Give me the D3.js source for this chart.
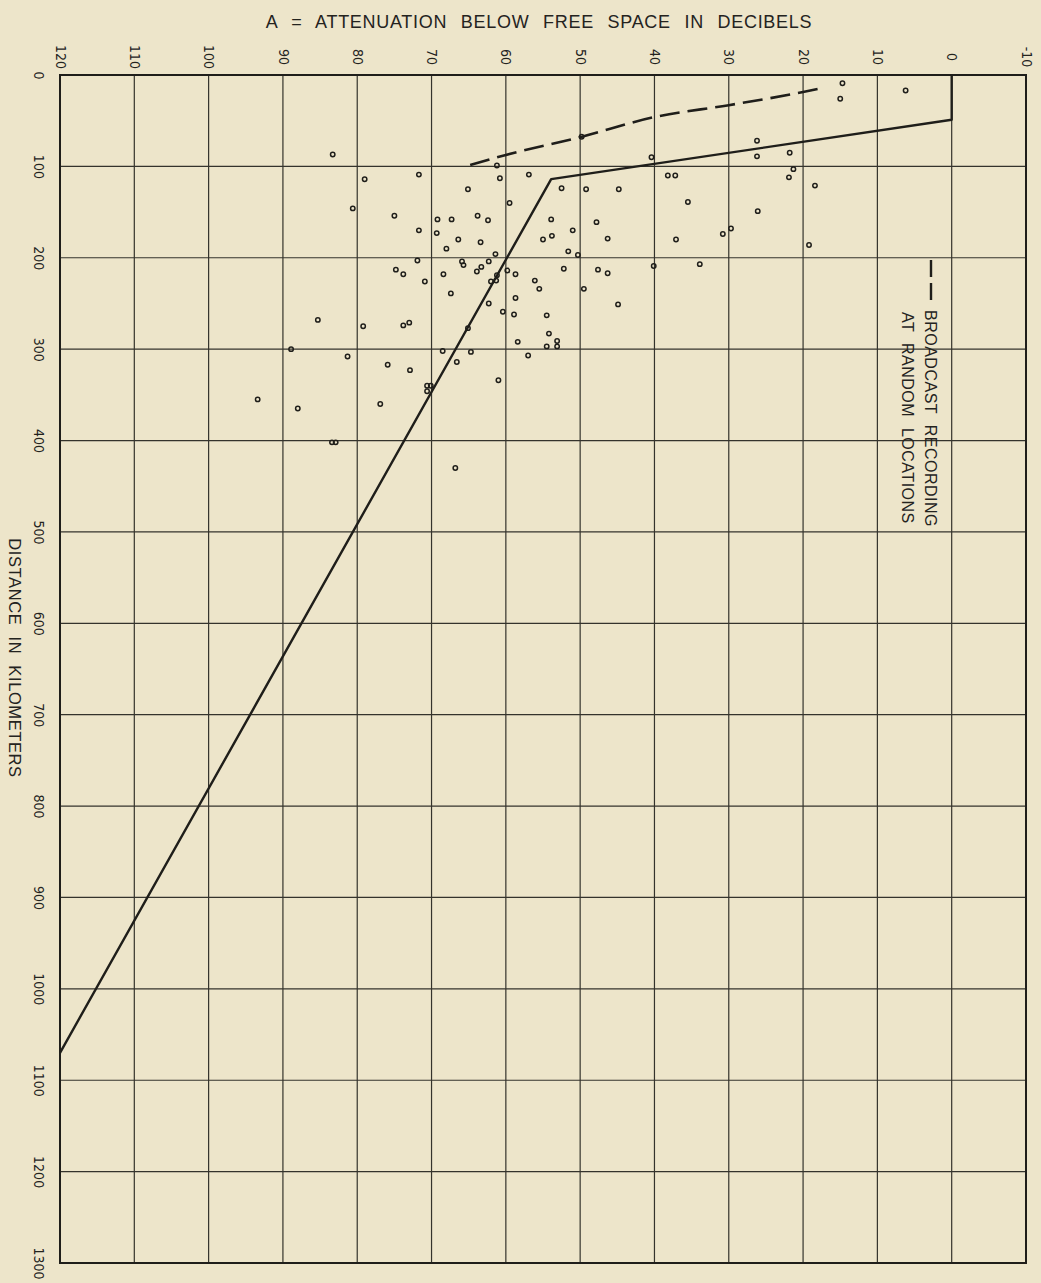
<!DOCTYPE html>
<html>
<head>
	<meta charset="utf-8">
	<title></title>
	<style>
		html, body {
			margin: 0;
			padding: 0;
			background-color: #ede5ca;
		}
		.chart {
			display: block;
			width: 1041px;
			height: 1283px;
		}
		.tick text {
			font-family: "DejaVu Sans Condensed", "DejaVu Sans", sans-serif;
			font-stretch: condensed;
			font-size: 14px;
			fill: #24231e;
		}
		.label {
			font-family: "Liberation Sans", "DejaVu Sans", sans-serif;
			fill: #24231e;
		}
	</style>
</head>
<body>

<svg class="chart" width="1041" height="1283"></svg>

<script src="https://d3js.org/d3.v7.min.js"></script>
<script>

// attenuation ticks (dB) along the top, distance ticks (km) down the side
var dbTicks = [120, 110, 100, 90, 80, 70, 60, 50, 40, 30, 20, 10, 0, -10]
var kmTicks = [0, 100, 200, 300, 400, 500, 600, 700, 800, 900, 1000, 1100, 1200, 1300]

// broadcast recordings at random locations: [attenuation dB, distance km]
var recordings = [
	[14.7, 9], [15.0, 26], [6.2, 17], [26.2, 72], [26.2, 89], [21.8, 85],
	[21.3, 103], [21.9, 112], [18.4, 121], [26.1, 149], [30.8, 174], [29.7, 168],
	[19.2, 186], [83.3, 87], [79.0, 114], [80.6, 146], [71.7, 109], [75.0, 154],
	[71.7, 170], [71.9, 203], [74.8, 213], [73.8, 218], [69.2, 158], [67.3, 158],
	[69.3, 173], [66.4, 180], [68.0, 190], [63.8, 154], [62.4, 159], [65.1, 125],
	[61.2, 99], [60.8, 113], [59.5, 140], [63.4, 183], [61.4, 196], [65.9, 204],
	[65.7, 208], [62.3, 204], [63.3, 210], [63.9, 215], [68.4, 218], [59.8, 214],
	[58.7, 218], [56.1, 225], [56.9, 109], [52.5, 124], [53.9, 158], [53.8, 176],
	[55.0, 180], [51.0, 170], [51.6, 193], [50.3, 197], [52.2, 212], [49.8, 67.5],
	[49.2, 125], [44.8, 125], [47.8, 161], [46.3, 179], [47.6, 213], [46.3, 217],
	[40.4, 90], [38.2, 110], [37.2, 110], [35.5, 139], [37.1, 180], [40.1, 209],
	[33.9, 207], [61.2, 219], [61.3, 225], [62.0, 226], [70.9, 226], [67.4, 239],
	[55.5, 234], [49.5, 234], [44.9, 251], [62.3, 250], [60.4, 259], [58.7, 244],
	[58.9, 262], [54.5, 263], [54.2, 283], [53.1, 291], [53.1, 297], [54.5, 297],
	[58.4, 292], [57.0, 307], [61.0, 334], [65.1, 277], [64.7, 303], [66.6, 314],
	[68.5, 302], [73.0, 271], [73.8, 274], [79.2, 275], [85.3, 268], [88.9, 300],
	[81.3, 308], [75.9, 317], [72.9, 323], [70.6, 340], [70.1, 340], [70.6, 346],
	[93.4, 355], [88.0, 365], [76.9, 360], [83.4, 402], [82.9, 402], [66.8, 430]
]

// solid curve (prediction) and dashed curve
var solidCurve = [[0, 0], [0, 49], [53.9, 114], [120, 1070]]
var dashedCurve = [[64.8, 98.5], [60, 87.5], [50, 68], [40, 46], [30, 33], [20, 18.6], [17.3, 14]]

var cfg = {
	left: 60,
	right: 1026,
	top: 75,
	bottom: 1263,
	ink: '#1f1e1a',
	gridInk: '#34332c',
}

var svg = d3.select('.chart')

var x = d3.scaleLinear().domain([120, -10]).range([cfg.left, cfg.right])
var y = d3.scaleLinear().domain([0, 1300]).range([cfg.top, cfg.bottom])

// grid
var grid = svg.append('g')
	.attr('stroke', cfg.gridInk)
	.attr('fill', 'none')

grid.selectAll('.vline')
	.data(dbTicks)
	.enter().append('line')
		.attr('x1', function(d) { return x(d) })
		.attr('x2', function(d) { return x(d) })
		.attr('y1', cfg.top)
		.attr('y2', cfg.bottom)
		.attr('stroke-width', 1.2)

grid.selectAll('.hline')
	.data(kmTicks)
	.enter().append('line')
		.attr('y1', function(d) { return y(d) })
		.attr('y2', function(d) { return y(d) })
		.attr('x1', cfg.left)
		.attr('x2', cfg.right)
		.attr('stroke-width', 1.2)

grid.append('rect')
	.attr('x', cfg.left)
	.attr('y', cfg.top)
	.attr('width', cfg.right - cfg.left)
	.attr('height', cfg.bottom - cfg.top)
	.attr('stroke', cfg.ink)
	.attr('stroke-width', 2)

// axes, labels turned on their side like the page
var topAxis = svg.append('g')
	.attr('transform', 'translate(0,57)')
	.call(d3.axisTop(x).tickValues(dbTicks).tickSize(0).tickFormat(function(d) { return String(d) }))
topAxis.select('.domain').remove()
topAxis.selectAll('.tick text')
	.attr('y', 0)
	.attr('dy', '0.35em')
	.attr('text-anchor', 'middle')
	.attr('transform', 'rotate(90)')

var leftAxis = svg.append('g')
	.attr('transform', 'translate(39,0)')
	.call(d3.axisLeft(y).tickValues(kmTicks).tickSize(0).tickFormat(function(d) { return String(d) }))
leftAxis.select('.domain').remove()
leftAxis.selectAll('.tick text')
	.attr('x', 0)
	.attr('dy', '0.35em')
	.attr('text-anchor', 'middle')
	.attr('transform', 'rotate(90)')

// axis titles
svg.append('text')
	.attr('class', 'label')
	.attr('x', 539)
	.attr('y', 28)
	.attr('text-anchor', 'middle')
	.attr('font-size', 18)
	.attr('word-spacing', 8)
	.attr('letter-spacing', 0.7)
	.text('A = ATTENUATION BELOW FREE SPACE IN DECIBELS')

svg.append('text')
	.attr('class', 'label')
	.attr('transform', 'translate(15,658) rotate(90)')
	.attr('text-anchor', 'middle')
	.attr('dy', '0.35em')
	.attr('font-size', 16.5)
	.attr('word-spacing', 6)
	.attr('letter-spacing', 0.6)
	.text('DISTANCE IN KILOMETERS')

// curves
var line = d3.line()
	.x(function(d) { return x(d[0]) })
	.y(function(d) { return y(d[1]) })

svg.append('path')
	.datum(solidCurve)
	.attr('d', line)
	.attr('fill', 'none')
	.attr('stroke', cfg.ink)
	.attr('stroke-width', 2.4)
	.attr('stroke-linejoin', 'round')

svg.append('path')
	.datum(dashedCurve)
	.attr('d', line.curve(d3.curveMonotoneX))
	.attr('fill', 'none')
	.attr('stroke', cfg.ink)
	.attr('stroke-width', 2.6)
	.attr('stroke-dasharray', '20,8')

// recording points
svg.selectAll('.pt')
	.data(recordings)
	.enter().append('circle')
		.attr('class', 'pt')
		.attr('cx', function(d) { return x(d[0]) })
		.attr('cy', function(d) { return y(d[1]) })
		.attr('r', 2.2)
		.attr('fill', 'none')
		.attr('stroke', cfg.ink)
		.attr('stroke-width', 1.5)

// legend
var legend = svg.append('g')
	.attr('transform', 'translate(931,260)')

legend.append('line')
	.attr('x1', 0).attr('x2', 0)
	.attr('y1', 0).attr('y2', 40)
	.attr('stroke', cfg.ink)
	.attr('stroke-width', 2.4)
	.attr('stroke-dasharray', '17,6')

legend.append('text')
	.attr('class', 'label')
	.attr('transform', 'translate(0,50) rotate(90)')
	.attr('dy', '0.35em')
	.attr('font-size', 16)
	.attr('word-spacing', 6)
	.attr('letter-spacing', 0.5)
	.text('BROADCAST RECORDING')

legend.append('text')
	.attr('class', 'label')
	.attr('transform', 'translate(-23,52) rotate(90)')
	.attr('dy', '0.35em')
	.attr('font-size', 16)
	.attr('word-spacing', 6)
	.attr('letter-spacing', 0.5)
	.text('AT RANDOM LOCATIONS')

</script>

</body>
</html>
